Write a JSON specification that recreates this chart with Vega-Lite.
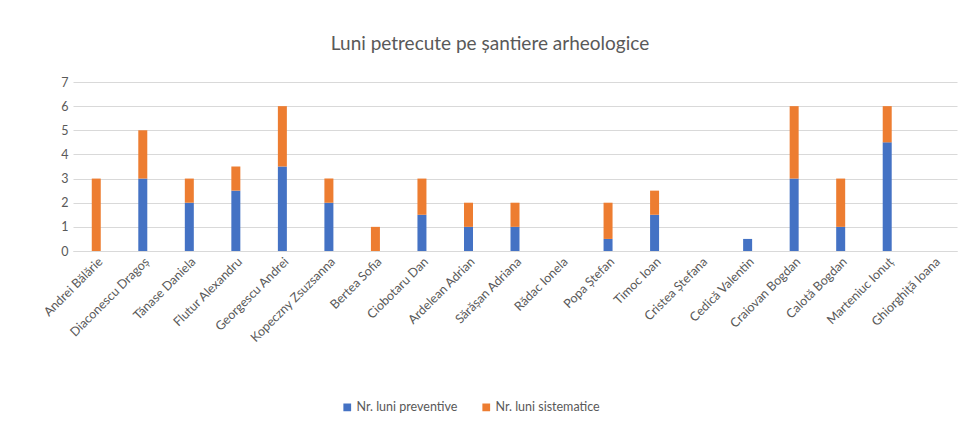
{
  "$schema": "https://vega.github.io/schema/vega-lite/v6.json",
  "autosize": "none",
  "width": 884,
  "height": 169,
  "padding": {"left": 73, "top": 82, "right": 23, "bottom": 177},
  "background": "white",
  "title": {
    "text": "Luni petrecute pe șantiere arheologice",
    "font": "Lato",
    "fontSize": 19,
    "fontWeight": "normal",
    "color": "#595959",
    "anchor": "middle",
    "frame": "group",
    "dx": -25,
    "offset": 22
  },
  "config": {
    "view": {"stroke": null},
    "font": "Lato",
    "axis": {"labelColor": "#595959", "labelFont": "Lato", "titleColor": "#595959"},
    "legend": {"labelFont": "Lato"}
  },
  "data": {
    "values": [
      {"name": "Andrei Bălărie", "type": "Nr. luni preventive", "value": 0},
      {"name": "Andrei Bălărie", "type": "Nr. luni sistematice", "value": 3},
      {"name": "Diaconescu Dragoș", "type": "Nr. luni preventive", "value": 3},
      {"name": "Diaconescu Dragoș", "type": "Nr. luni sistematice", "value": 2},
      {"name": "Tănase Daniela", "type": "Nr. luni preventive", "value": 2},
      {"name": "Tănase Daniela", "type": "Nr. luni sistematice", "value": 1},
      {"name": "Flutur Alexandru", "type": "Nr. luni preventive", "value": 2.5},
      {"name": "Flutur Alexandru", "type": "Nr. luni sistematice", "value": 1},
      {"name": "Georgescu Andrei", "type": "Nr. luni preventive", "value": 3.5},
      {"name": "Georgescu Andrei", "type": "Nr. luni sistematice", "value": 2.5},
      {"name": "Kopeczny Zsuzsanna", "type": "Nr. luni preventive", "value": 2},
      {"name": "Kopeczny Zsuzsanna", "type": "Nr. luni sistematice", "value": 1},
      {"name": "Bertea Sofia", "type": "Nr. luni preventive", "value": 0},
      {"name": "Bertea Sofia", "type": "Nr. luni sistematice", "value": 1},
      {"name": "Ciobotaru Dan", "type": "Nr. luni preventive", "value": 1.5},
      {"name": "Ciobotaru Dan", "type": "Nr. luni sistematice", "value": 1.5},
      {"name": "Ardelean Adrian", "type": "Nr. luni preventive", "value": 1},
      {"name": "Ardelean Adrian", "type": "Nr. luni sistematice", "value": 1},
      {"name": "Sărășan Adriana", "type": "Nr. luni preventive", "value": 1},
      {"name": "Sărășan Adriana", "type": "Nr. luni sistematice", "value": 1},
      {"name": "Rădac Ionela", "type": "Nr. luni preventive", "value": 0},
      {"name": "Rădac Ionela", "type": "Nr. luni sistematice", "value": 0},
      {"name": "Popa Ștefan", "type": "Nr. luni preventive", "value": 0.5},
      {"name": "Popa Ștefan", "type": "Nr. luni sistematice", "value": 1.5},
      {"name": "Timoc Ioan", "type": "Nr. luni preventive", "value": 1.5},
      {"name": "Timoc Ioan", "type": "Nr. luni sistematice", "value": 1},
      {"name": "Cristea Ștefana", "type": "Nr. luni preventive", "value": 0},
      {"name": "Cristea Ștefana", "type": "Nr. luni sistematice", "value": 0},
      {"name": "Cedică Valentin", "type": "Nr. luni preventive", "value": 0.5},
      {"name": "Cedică Valentin", "type": "Nr. luni sistematice", "value": 0},
      {"name": "Craiovan Bogdan", "type": "Nr. luni preventive", "value": 3},
      {"name": "Craiovan Bogdan", "type": "Nr. luni sistematice", "value": 3},
      {"name": "Calotă Bogdan", "type": "Nr. luni preventive", "value": 1},
      {"name": "Calotă Bogdan", "type": "Nr. luni sistematice", "value": 2},
      {"name": "Marteniuc Ionuț", "type": "Nr. luni preventive", "value": 4.5},
      {"name": "Marteniuc Ionuț", "type": "Nr. luni sistematice", "value": 1.5},
      {"name": "Ghiorghiță Ioana", "type": "Nr. luni preventive", "value": 0},
      {"name": "Ghiorghiță Ioana", "type": "Nr. luni sistematice", "value": 0}
    ]
  },
  "mark": {"type": "bar", "width": 9},
  "encoding": {
    "x": {
      "field": "name",
      "type": "nominal",
      "sort": null,
      "scale": {"paddingInner": 0, "paddingOuter": 0},
      "axis": {
        "title": null,
        "labelAngle": -45,
        "labelAlign": "right",
        "labelBaseline": "top",
        "labelFontSize": 12.5,
        "labelPadding": 4,
        "ticks": false,
        "domainColor": "#D9D9D9",
        "grid": false
      }
    },
    "y": {
      "field": "value",
      "type": "quantitative",
      "stack": "zero",
      "scale": {"domain": [0, 7], "nice": false},
      "axis": {
        "title": null,
        "values": [0, 1, 2, 3, 4, 5, 6, 7],
        "labelFontSize": 12.5,
        "labelPadding": 5,
        "ticks": false,
        "domain": false,
        "gridColor": "#D9D9D9",
        "gridWidth": 1.2
      }
    },
    "color": {
      "field": "type",
      "type": "nominal",
      "scale": {"domain": ["Nr. luni preventive", "Nr. luni sistematice"], "range": ["#4472C4", "#ED7D31"]},
      "legend": {
        "title": null,
        "orient": "none",
        "direction": "horizontal",
        "legendX": 268,
        "legendY": 319,
        "symbolType": "square",
        "symbolSize": 60,
        "labelFontSize": 12.5,
        "labelColor": "#595959",
        "columnPadding": 22,
        "labelOffset": 3
      }
    },
    "order": {"field": "type", "sort": "ascending"}
  }
}
